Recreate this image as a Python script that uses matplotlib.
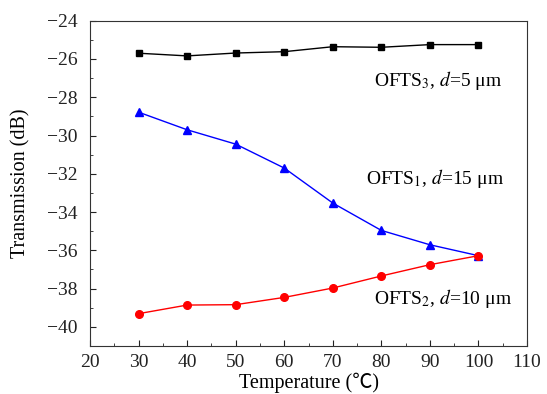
import numpy as np
import matplotlib
matplotlib.use('Agg')
import matplotlib.pyplot as plt
from matplotlib.ticker import MultipleLocator

plt.rcParams['font.family'] = ['Liberation Serif', 'Noto Sans CJK SC']
plt.rcParams['mathtext.fontset'] = 'stix'

temperature = [30, 40, 50, 60, 70, 80, 90, 100]
ofts3 = [-25.70, -25.84, -25.69, -25.62, -25.36, -25.39, -25.25, -25.25]
ofts1 = [-28.78, -29.70, -30.45, -31.70, -33.53, -34.96, -35.71, -36.28]
ofts2 = [-39.31, -38.86, -38.84, -38.46, -37.97, -37.34, -36.75, -36.28]

fig = plt.figure(figsize=(5.47, 3.94), dpi=100)
ax = fig.add_axes([0.1645, 0.1218, 0.799, 0.8257])

ax.plot(temperature, ofts3, color='black', marker='s', ms=5, lw=1)
ax.plot(temperature, ofts1, color='blue', marker='^', ms=6, lw=1)
ax.plot(temperature, ofts2, color='red', marker='o', ms=5.5, lw=1)

ax.text(78.5, -27.1, r'OFTS$_3$, $d$=5 μm', fontsize=14, va='center')
ax.text(76.8, -32.25, r'OFTS$_1$, $d$=15 μm', fontsize=14, va='center')
ax.text(78.5, -38.5, r'OFTS$_2$, $d$=10 μm', fontsize=14, va='center')

ax.set_xlim(20, 110)
ax.set_ylim(-41, -24)
ax.xaxis.set_major_locator(MultipleLocator(10))
ax.xaxis.set_minor_locator(MultipleLocator(5))
ax.yaxis.set_major_locator(MultipleLocator(2))
ax.yaxis.set_minor_locator(MultipleLocator(1))
ax.tick_params(which='both', direction='in', labelsize=14, colors='#222222')
ax.tick_params(which='major', length=4)
ax.tick_params(which='minor', length=2.5)
ax.tick_params(axis='y', pad=9)
ax.tick_params(axis='x', pad=6)
for s in ax.spines.values():
    s.set_color('#333333')

ax.set_xlabel('Temperature (℃)', fontsize=14.5, labelpad=1)
ax.set_ylabel('Transmission (dB)', fontsize=14.5, labelpad=12)

fig.savefig('out.png', dpi=100)
